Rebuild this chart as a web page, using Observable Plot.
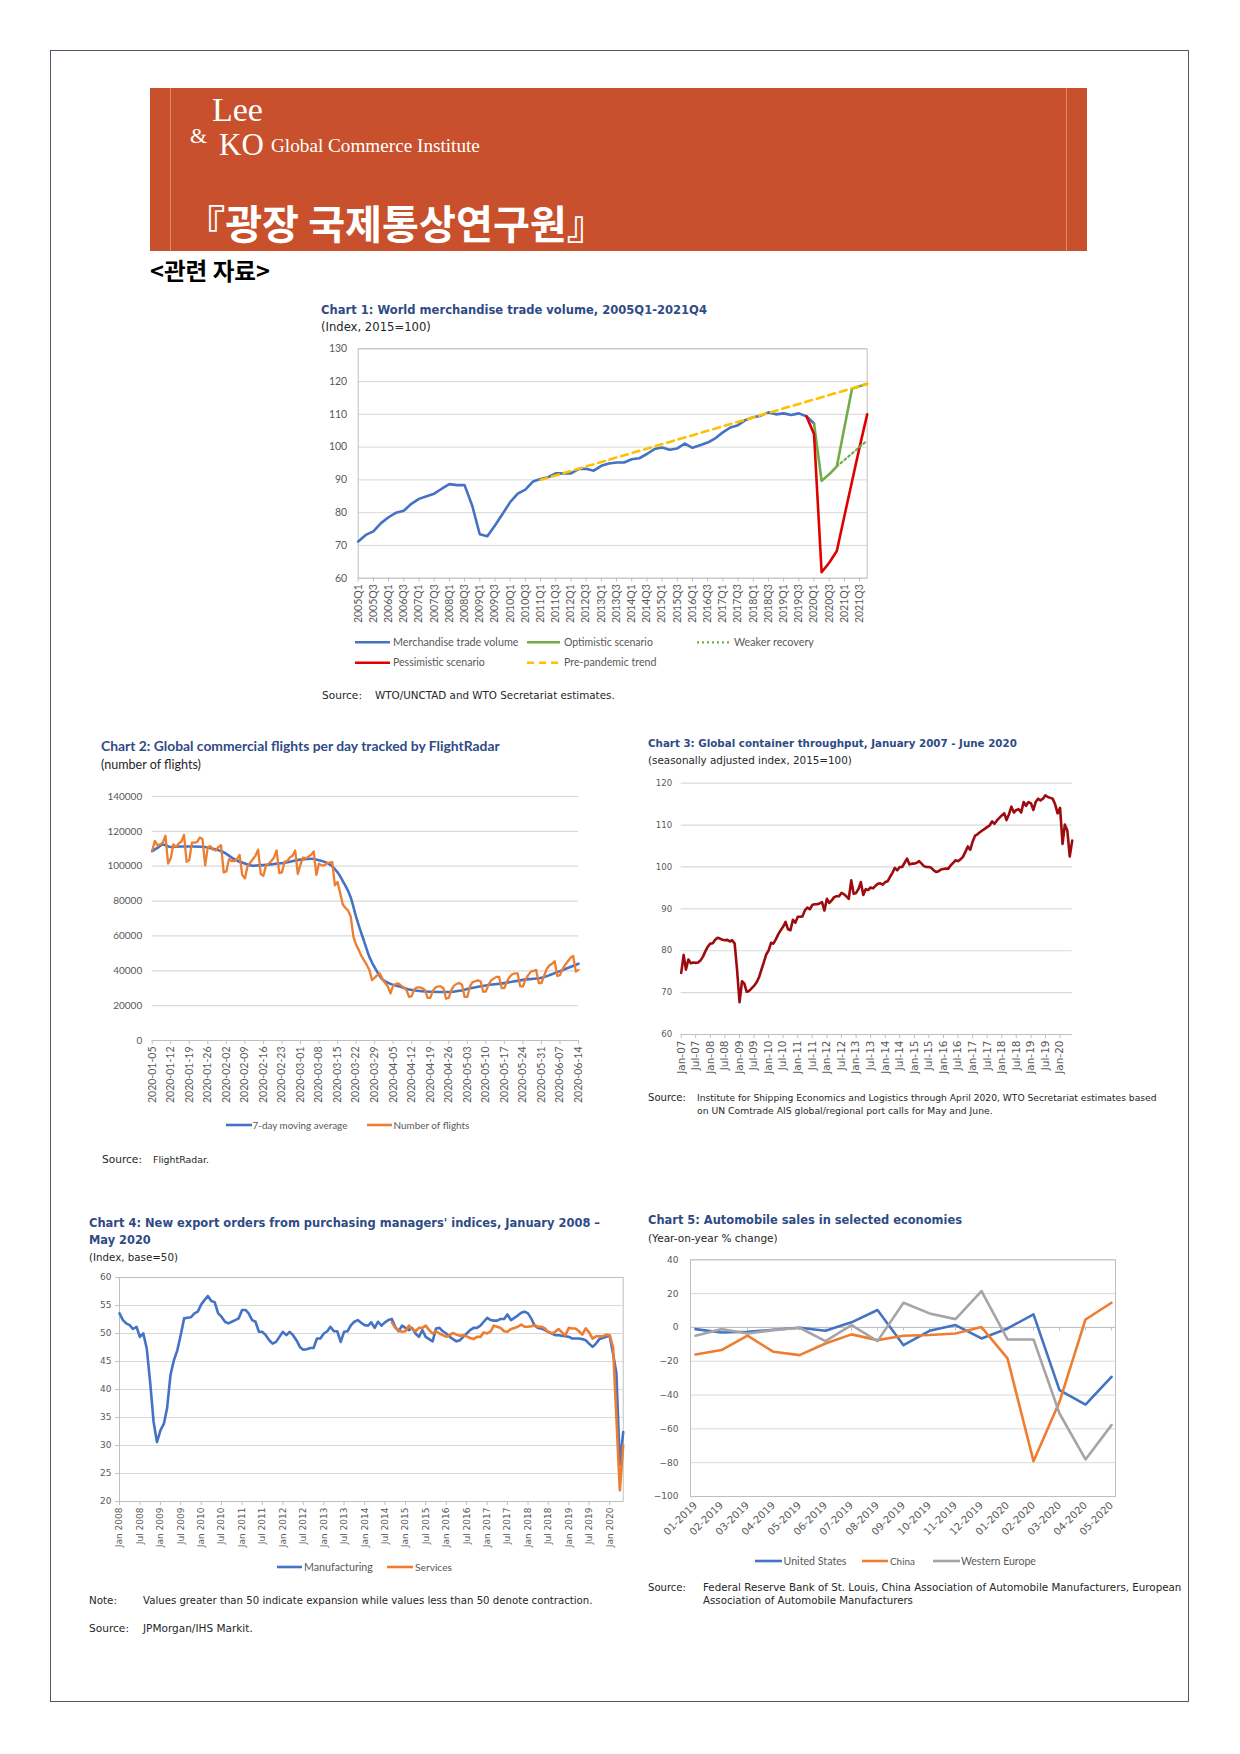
<!DOCTYPE html>
<html>
<head>
<meta charset="utf-8">
<script src="https://cdn.jsdelivr.net/npm/d3@7"></script>
<script src="https://cdn.jsdelivr.net/npm/@observablehq/plot@0.6"></script>
<style>
  html, body { margin: 0; padding: 0; background: #fff; }
  #page { position: relative; width: 1240px; height: 1754px; overflow: hidden; background: #fff; }
  #page > svg { position: absolute; }
</style>
</head>
<body>
<div id="page"></div>
<script>
// ---------------- Chart 1: World merchandise trade volume ----------------
const quarters = [
  "2005Q1","2005Q2","2005Q3","2005Q4","2006Q1","2006Q2","2006Q3","2006Q4",
  "2007Q1","2007Q2","2007Q3","2007Q4","2008Q1","2008Q2","2008Q3","2008Q4",
  "2009Q1","2009Q2","2009Q3","2009Q4","2010Q1","2010Q2","2010Q3","2010Q4",
  "2011Q1","2011Q2","2011Q3","2011Q4","2012Q1","2012Q2","2012Q3","2012Q4",
  "2013Q1","2013Q2","2013Q3","2013Q4","2014Q1","2014Q2","2014Q3","2014Q4",
  "2015Q1","2015Q2","2015Q3","2015Q4","2016Q1","2016Q2","2016Q3","2016Q4",
  "2017Q1","2017Q2","2017Q3","2017Q4","2018Q1","2018Q2","2018Q3","2018Q4",
  "2019Q1","2019Q2","2019Q3","2019Q4","2020Q1","2020Q2","2020Q3","2020Q4",
  "2021Q1","2021Q2","2021Q3","2021Q4"
];
const c1XTicks = [
  "2005Q1","2005Q3","2006Q1","2006Q3","2007Q1","2007Q3","2008Q1","2008Q3",
  "2009Q1","2009Q3","2010Q1","2010Q3","2011Q1","2011Q3","2012Q1","2012Q3",
  "2013Q1","2013Q3","2014Q1","2014Q3","2015Q1","2015Q3","2016Q1","2016Q3",
  "2017Q1","2017Q3","2018Q1","2018Q3","2019Q1","2019Q3","2020Q1","2020Q3",
  "2021Q1","2021Q3"
];
const c1YTicks = [60, 70, 80, 90, 100, 110, 120, 130];
// 2005Q1 .. 2020Q1
const tradeVolume = [
  71.2, 73.2, 74.3, 76.8, 78.6, 80.0, 80.6, 82.7, 84.2, 85.0,
  85.8, 87.3, 88.7, 88.4, 88.4, 82.2, 73.4, 72.8, 76.1, 79.6,
  83.2, 85.8, 87.0, 89.5, 90.3, 90.8, 92.0, 92.0, 92.0, 93.3,
  93.4, 92.8, 94.3, 95.0, 95.3, 95.3, 96.3, 96.6, 97.9, 99.4,
  99.9, 99.2, 99.6, 101.1, 99.8, 100.6, 101.4, 102.7, 104.5, 106.0,
  106.7, 108.3, 109.1, 109.6, 110.6, 110.0, 110.3, 109.8, 110.3, 109.4,
  107.2
];
const scenarioQuarters = ["2019Q4","2020Q1","2020Q2","2020Q3","2020Q4","2021Q1","2021Q2","2021Q3","2021Q4"];
const optimistic  = [null, 107.2, 89.7, 91.7, 94.1, 106.0, 117.8, 118.6, 119.3];
const pessimistic = [109.4, 104.0, 61.8, 64.7, 68.3, 79.0, 89.5, 100.0, 110.0];
const weakerQuarters = ["2020Q4", "2021Q4"];
const weakerRecovery = [94.1, 102.0];
const trendQuarters = ["2011Q1", "2021Q4"];
const prePandemicTrend = [90.0, 119.3];

// ---------------- Chart 2: Global commercial flights (thousands) ----------------
const flightsStart = "2020-01-05";
const flightsDaily = [
  109, 114.5, 112, 112.5, 113.5, 117.5, 101.5,
  104.5, 112.5, 111, 113, 114, 118, 102.5,
  103.5, 113.5, 113.5, 114, 116.5, 115.5, 100.5,
  111, 111.5, 109.5, 109, 111, 112, 96.5,
  97, 104, 103, 103, 104, 106.5, 95,
  93, 100, 102, 104, 106, 109.5, 95.5,
  94.5, 100.5, 101.5, 103, 105, 109, 96,
  96.5, 102.5, 103, 105, 106, 109, 95.5,
  101, 105, 104.5, 105.5, 106.5, 108.5, 95,
  101.5, 100.5, 100.5, 101.8, 102, 102.4, 89,
  91, 84.5, 78, 76, 74.5, 71, 59.5,
  55, 52, 48.5, 46, 43.5, 40.5, 34.7,
  36, 37.5, 38.5, 35, 33, 31, 27,
  31.5, 32.5, 32.7, 31.5, 30.5, 29, 25,
  25.5, 29.5, 30.5, 30.5, 30, 29, 24.5,
  24.5, 28.5, 30.5, 31, 31, 30, 24,
  24.5, 29, 31.5, 32.5, 33, 32, 25,
  25, 31, 33.5, 34, 34.5, 34, 28,
  28, 32, 34.5, 35.5, 36.5, 36.5, 30,
  30, 34, 36.5, 38, 38.5, 38.5, 31,
  31, 35, 37.5, 39.5, 40, 40.5, 33,
  33, 37, 41, 43, 44, 45.5, 37,
  37.5, 41, 43.5, 45.5, 47.5, 48.5, 39.5,
  40.5
];
const maDates = [
  "2020-01-05","2020-01-07","2020-01-09","2020-01-12","2020-01-16","2020-01-20","2020-01-24","2020-01-28",
  "2020-02-01","2020-02-05","2020-02-09","2020-02-12","2020-02-16","2020-02-20","2020-02-24","2020-03-01",
  "2020-03-05","2020-03-08","2020-03-12","2020-03-15","2020-03-17","2020-03-20","2020-03-22","2020-03-25",
  "2020-03-27","2020-03-30","2020-04-01","2020-04-04","2020-04-08","2020-04-11","2020-04-15","2020-04-19",
  "2020-04-26","2020-04-30","2020-05-04","2020-05-10","2020-05-17","2020-05-24","2020-05-31","2020-06-07",
  "2020-06-14"
];
const maValues = [
  108.6, 110.5, 112.5, 111, 111.3, 111.3, 111.2, 110,
  108, 104, 101.5, 100.3, 100.6, 101.3, 102, 103.8,
  104.3, 103.4, 101.1, 96.5, 91.5, 82, 71, 57,
  48, 39.4, 35, 32.5, 30.7, 29.3, 28.4, 28,
  27.8, 28.5, 30, 31.6, 32.9, 34.8, 36, 39.8,
  44
];
const c2XTicks = [
  "2020-01-05","2020-01-12","2020-01-19","2020-01-26","2020-02-02","2020-02-09","2020-02-16","2020-02-23",
  "2020-03-01","2020-03-08","2020-03-15","2020-03-22","2020-03-29","2020-04-05","2020-04-12","2020-04-19",
  "2020-04-26","2020-05-03","2020-05-10","2020-05-17","2020-05-24","2020-05-31","2020-06-07","2020-06-14"
];
const c2YTicks = [0, 20, 40, 60, 80, 100, 120, 140];

// ---------------- Chart 3: Global container throughput (monthly from Jan-07) ----------------
const containerStart = "Jan-07";
const containerIndex = [
  74.7, 79.0, 75.5, 77.9, 77.0, 77.2, 77.1, 77.2, 77.7, 78.6, 79.9, 81.0,
  81.7, 81.8, 82.6, 83.1, 82.9, 82.6, 82.5, 82.6, 82.2, 82.5, 81.7, 75.5,
  67.7, 72.7, 72.2, 70.2, 70.4, 71.0, 71.6, 72.4, 73.6, 75.4, 77.2, 79.1,
  80.1, 81.9, 81.7, 82.7, 83.9, 84.9, 85.7, 86.9, 85.1, 84.9, 87.4, 86.7,
  88.1, 88.1, 88.2, 89.7, 90.3, 89.9, 90.9, 91.1, 91.1, 91.3, 91.6, 89.6,
  92.4, 91.4, 92.0, 92.8, 93.0, 93.0, 93.8, 93.5, 93.0, 92.4, 96.8, 93.6,
  93.8, 94.8, 96.4, 93.3, 94.7, 94.5, 95.1, 94.9, 95.5, 96.0, 96.1, 95.8,
  96.4, 96.6, 97.6, 98.6, 99.8, 99.2, 100.0, 100.0, 101.0, 102.0, 100.6, 100.8,
  100.8, 101.0, 101.4, 100.8, 100.2, 100.0, 100.0, 99.8, 99.2, 98.8, 99.0, 99.4,
  99.5, 99.6, 99.6, 100.4, 101.0, 101.6, 101.4, 101.8, 102.4, 103.6, 104.9, 104.1,
  106.1, 107.5, 107.8, 108.3, 108.7, 109.1, 109.5, 109.9, 110.9, 110.3, 111.1, 111.7,
  112.3, 112.8, 111.2, 112.6, 114.4, 113.0, 113.6, 113.8, 113.0, 115.5, 114.6, 115.5,
  115.2, 113.6, 115.5, 116.3, 115.9, 116.3, 117.1, 116.7, 116.5, 116.3, 114.9, 112.8,
  114.1, 105.5, 110.1, 108.7, 102.5, 106.3
];
const c3XTicks = [
  "Jan-07","Jul-07","Jan-08","Jul-08","Jan-09","Jul-09","Jan-10","Jul-10","Jan-11","Jul-11",
  "Jan-12","Jul-12","Jan-13","Jul-13","Jan-14","Jul-14","Jan-15","Jul-15","Jan-16","Jul-16",
  "Jan-17","Jul-17","Jan-18","Jul-18","Jan-19","Jul-19","Jan-20"
];
const c3YTicks = [60, 70, 80, 90, 100, 110, 120];

// ---------------- Chart 4: New export orders PMI (monthly from Jan 2008) ----------------
const pmiStart = "Jan 2008";
const manufacturing = [
  53.6, 52.4, 51.8, 51.5, 50.8, 51.2, 49.4, 50.0, 47.3, 41.3, 34.2, 30.6,
  32.7, 33.9, 36.6, 42.6, 45.2, 47.0, 49.7, 52.7, 52.8, 52.9, 53.6, 53.9,
  55.2, 56.0, 56.7, 55.8, 55.6, 53.6, 53.0, 52.1, 51.8, 52.1, 52.4, 52.7,
  54.2, 54.2, 53.6, 52.4, 52.1, 50.3, 50.3, 49.7, 48.8, 48.2, 48.5, 49.4,
  50.3, 49.7, 50.3, 49.7, 48.8, 47.6, 47.1, 47.2, 47.4, 47.4, 49.1, 49.1,
  50.0, 50.4, 51.2, 50.4, 50.4, 48.5, 50.3, 50.4, 51.5, 52.1, 52.4, 51.9,
  51.5, 51.4, 52.0, 51.0, 52.1, 51.4, 52.0, 52.4, 52.6, 51.2, 50.4, 51.4,
  51.0, 50.6, 51.0, 50.0, 49.4, 50.6, 49.4, 49.0, 48.6, 50.9, 51.0, 50.4,
  50.0, 49.4, 49.0, 48.6, 48.8, 49.4, 50.0, 50.6, 51.0, 51.0, 51.4, 52.1,
  52.8, 52.4, 52.3, 52.3, 52.6, 52.6, 53.4, 52.4, 52.8, 53.2, 53.7, 53.9,
  53.6, 52.6, 51.4, 51.0, 50.9, 50.6, 50.3, 50.0, 49.7, 49.7, 49.6, 49.5,
  49.4, 49.1, 49.1, 49.1, 49.0, 48.8, 48.2, 47.6, 48.2, 49.0, 49.2, 49.4,
  49.6, 46.3, 43.0, 26.5, 32.4
];
const servicesStart = "Sep 2014";
const services = [
  52.0, 51.0, 50.6, 50.3, 50.4, 51.4, 50.8, 50.4, 51.0, 51.0, 51.4, 50.6,
  50.0, 50.4, 50.0, 49.7, 49.4, 49.7, 50.1, 49.8, 49.6, 49.7, 49.5, 49.2,
  49.0, 49.4, 49.4, 50.2, 50.0, 50.4, 51.4, 51.2, 51.0, 50.4, 50.3, 50.8,
  51.0, 51.2, 51.6, 51.2, 51.2, 51.3, 51.5, 51.2, 51.2, 50.9, 50.2, 50.0,
  50.3, 50.8, 50.2, 49.7, 51.0, 50.9, 50.9, 50.4, 49.8, 50.9, 50.2, 49.1,
  49.5, 49.5, 49.5, 49.8, 49.7, 47.5, 35.0, 22.0, 30.0
];
const c4XTicks = [
  "Jan 2008","Jul 2008","Jan 2009","Jul 2009","Jan 2010","Jul 2010","Jan 2011","Jul 2011",
  "Jan 2012","Jul 2012","Jan 2013","Jul 2013","Jan 2014","Jul 2014","Jan 2015","Jul 2015",
  "Jan 2016","Jul 2016","Jan 2017","Jul 2017","Jan 2018","Jul 2018","Jan 2019","Jul 2019","Jan 2020"
];
const c4YTicks = [20, 25, 30, 35, 40, 45, 50, 55, 60];

// ---------------- Chart 5: Automobile sales ----------------
const autoMonths = ["01-2019","02-2019","03-2019","04-2019","05-2019","06-2019","07-2019","08-2019",
  "09-2019","10-2019","11-2019","12-2019","01-2020","02-2020","03-2020","04-2020","05-2020"];
const unitedStates  = [-1, -3, -2.6, -1.4, -0.2, -2, 3, 10.3, -10.5, -2, 1.4, -6.5, -0.6, 7.7, -37.1, -45.6, -29.2];
const china         = [-16, -13.4, -4.9, -14.4, -16.4, -9.5, -4.1, -7.5, -4.9, -4.5, -3.6, 0.2, -18.3, -79.1, -44, 4.7, 14.6];
const westernEurope = [-4.9, -1, -3.6, -1.6, -0.2, -8.1, 1.4, -8.1, 14.6, 8.3, 4.9, 21.5, -7.1, -7.1, -50.9, -78.1, -57.8];
const c5YTicks = [-100, -80, -60, -40, -20, 0, 20, 40];

// ============================ drawing ============================
const page = document.getElementById("page");
const BLUE = "#4472c4", ORANGE = "#ed7d31", GRAY = "#a5a5a5", GREEN = "#70ad47", RED = "#e00000", GOLD = "#ffc000";
const GRID = "#d9d9d9", AXIS = "#bfbfbf", LABEL = "#595959", TITLE = "#2f4b86";

function place(svg, left, top) {
  svg.style.position = "absolute";
  svg.style.left = left + "px";
  svg.style.top = top + "px";
  page.appendChild(svg);
}
const calibri = { fontFamily: "Lato, sans-serif", color: LABEL, background: "transparent", overflow: "visible" };
const verdana = { fontFamily: "'DejaVu Sans', sans-serif", color: LABEL, background: "transparent", overflow: "visible" };

// Chart 1
place(Plot.plot({
  width: 570, height: 290, marginLeft: 47.7, marginRight: 13.3, marginTop: 8.3, marginBottom: 52.3,
  style: { ...calibri, fontSize: "10.5px" },
  x: { type: "point", domain: quarters, padding: 0 },
  y: { domain: [60, 130] },
  marks: [
    Plot.gridY(c1YTicks, { stroke: GRID, strokeOpacity: 1 }),
    Plot.frame({ stroke: AXIS }),
    Plot.axisY(c1YTicks, { tickSize: 0, tickPadding: 11, label: null, fill: LABEL }),
    Plot.axisX(c1XTicks, { tickRotate: -90, tickSize: 4, tickPadding: 2, label: null, stroke: AXIS, fill: LABEL }),
    Plot.line(tradeVolume, { x: (d, i) => quarters[i], y: d => d, stroke: BLUE, strokeWidth: 2.6 }),
    Plot.line(optimistic, { x: (d, i) => scenarioQuarters[i], y: d => d, stroke: GREEN, strokeWidth: 2.6 }),
    Plot.line(pessimistic, { x: (d, i) => scenarioQuarters[i], y: d => d, stroke: RED, strokeWidth: 2.6 }),
    Plot.line(weakerRecovery, { x: (d, i) => weakerQuarters[i], y: d => d, stroke: GREEN, strokeWidth: 2.2, strokeDasharray: "2,3" }),
    Plot.line(prePandemicTrend, { x: (d, i) => trendQuarters[i], y: d => d, stroke: GOLD, strokeWidth: 2.6, strokeDasharray: "7,5" })
  ]
}), 310, 340);

// Chart 2
const day0 = d3.utcParse("%Y-%m-%d")(flightsStart);
place(Plot.plot({
  width: 495, height: 325, marginLeft: 56.7, marginRight: 12, marginTop: 11, marginBottom: 70,
  style: { ...calibri, fontSize: "10px" },
  x: { type: "utc", domain: [day0, d3.utcParse("%Y-%m-%d")(c2XTicks[c2XTicks.length - 1])] },
  y: { domain: [0, 140] },
  marks: [
    Plot.gridY(c2YTicks.slice(1), { stroke: GRID, strokeOpacity: 1, strokeWidth: 1.2 }),
    Plot.ruleY([0], { stroke: AXIS }),
    Plot.axisY(c2YTicks, { tickSize: 0, tickPadding: 10, label: null, fill: LABEL, tickFormat: d => String(d * 1000) }),
    Plot.axisX(c2XTicks.map(d3.utcParse("%Y-%m-%d")), { tickRotate: -90, tickSize: 4, tickPadding: 2, label: null, stroke: AXIS, fill: LABEL, fontSize: 10.5, tickFormat: d3.utcFormat("%Y-%m-%d") }),
    Plot.line(maValues, { x: (d, i) => d3.utcParse("%Y-%m-%d")(maDates[i]), y: d => d, stroke: BLUE, strokeWidth: 2.6, curve: "monotone-x" }),
    Plot.line(flightsDaily, { x: (d, i) => d3.utcDay.offset(day0, i), y: d => d, stroke: ORANGE, strokeWidth: 2.3 })
  ]
}), 95, 785);

// Chart 3
const c3Parse = d3.utcParse("%b-%y");
const m3 = c3Parse(containerStart);
place(Plot.plot({
  width: 440, height: 305, marginLeft: 40.7, marginRight: 8.3, marginTop: 7.7, marginBottom: 46,
  style: { ...verdana, fontSize: "8.6px" },
  x: { type: "utc", domain: [m3, d3.utcMonth.offset(m3, containerIndex.length - 1)] },
  y: { domain: [60, 120] },
  marks: [
    Plot.gridY(c3YTicks.slice(1), { stroke: GRID, strokeOpacity: 1, strokeWidth: 1.2 }),
    Plot.ruleY([60], { stroke: AXIS }),
    Plot.axisY(c3YTicks, { tickSize: 0, tickPadding: 9, label: null, fill: LABEL }),
    Plot.axisX(c3XTicks.map(c3Parse), { tickRotate: -90, tickSize: 4, tickPadding: 2, label: null, stroke: AXIS, fill: LABEL, fontSize: 10.5, tickFormat: d3.utcFormat("%b-%y") }),
    Plot.line(containerIndex, { x: (d, i) => d3.utcMonth.offset(m3, i), y: d => d, stroke: "#9e0b0f", strokeWidth: 2.6 })
  ]
}), 640, 775);

// Chart 4
const c4Parse = d3.utcParse("%b %Y");
const m4 = c4Parse(pmiStart), s4 = c4Parse(servicesStart);
place(Plot.plot({
  width: 550, height: 290, marginLeft: 39, marginRight: 7.3, marginTop: 9, marginBottom: 57,
  style: { ...verdana, fontSize: "9px" },
  x: { type: "utc", domain: [m4, d3.utcMonth.offset(m4, manufacturing.length - 1)] },
  y: { domain: [20, 60] },
  marks: [
    Plot.gridY(c4YTicks, { stroke: GRID, strokeOpacity: 1 }),
    Plot.frame({ stroke: AXIS }),
    Plot.axisY(c4YTicks, { tickSize: 4, tickPadding: 4, label: null, stroke: AXIS, fill: LABEL }),
    Plot.axisX(c4XTicks.map(c4Parse), { tickRotate: -90, tickSize: 4, tickPadding: 2, label: null, stroke: AXIS, fill: LABEL, tickFormat: d3.utcFormat("%b %Y") }),
    Plot.line(manufacturing, { x: (d, i) => d3.utcMonth.offset(m4, i), y: d => d, stroke: BLUE, strokeWidth: 2.6 }),
    Plot.line(services, { x: (d, i) => d3.utcMonth.offset(s4, i), y: d => d, stroke: ORANGE, strokeWidth: 2.6 })
  ]
}), 80, 1268);

// Chart 5
place(Plot.plot({
  width: 490, height: 300, marginLeft: 50, marginRight: 15, marginTop: 9.3, marginBottom: 54,
  style: { ...verdana, fontSize: "9px" },
  x: { type: "point", domain: autoMonths, padding: 0 },
  y: { domain: [-100, 40] },
  marks: [
    Plot.gridY(c5YTicks, { stroke: GRID, strokeOpacity: 1 }),
    Plot.frame({ stroke: AXIS }),
    Plot.ruleY([0], { stroke: AXIS }),
    Plot.ruleX(autoMonths, { x: d => d, y1: 0, y2: -2, stroke: AXIS }),
    Plot.axisY(c5YTicks, { tickSize: 0, tickPadding: 12, label: null, fill: LABEL }),
    Plot.axisX(autoMonths, { tickRotate: -45, tickSize: 0, tickPadding: 7, label: null, fill: LABEL, fontSize: 10.2 }),
    Plot.line(unitedStates, { x: (d, i) => autoMonths[i], y: d => d, stroke: BLUE, strokeWidth: 2.6 }),
    Plot.line(china, { x: (d, i) => autoMonths[i], y: d => d, stroke: ORANGE, strokeWidth: 2.6 }),
    Plot.line(westernEurope, { x: (d, i) => autoMonths[i], y: d => d, stroke: GRAY, strokeWidth: 2.6 })
  ]
}), 640, 1250);

// ---------------- overlay: header, titles, legends, sources ----------------
const ov = d3.select(page).append("svg")
  .attr("width", 1240).attr("height", 1754)
  .style("left", "0px").style("top", "0px").style("pointer-events", "none");

function txt(x, y, s, o = {}) {
  const size = o.size || 10;
  const t = ov.append("text").attr("x", x).attr("y", y).text(s)
    .attr("font-family", o.family || "'DejaVu Sans', sans-serif")
    .attr("font-size", size)
    .attr("font-weight", o.weight || "normal")
    .attr("fill", o.fill || "#262626");
  if (o.w) {
    const len = t.node().getComputedTextLength();
    if (len > 0) t.attr("font-size", size * o.w / len);
  }
  return t;
}
function leg(x1, x2, y, color, label, tx, tw, o = {}) {
  ov.append("line").attr("x1", x1).attr("x2", x2).attr("y1", y).attr("y2", y)
    .attr("stroke", color).attr("stroke-width", o.width || 2.6)
    .attr("stroke-dasharray", o.dash || null);
  txt(tx, y + 3.6, label, { family: "Lato, sans-serif", size: 10.5, fill: LABEL, w: tw });
}

// page border
ov.append("rect").attr("x", 50.5).attr("y", 50.5).attr("width", 1138).attr("height", 1651)
  .attr("fill", "none").attr("stroke", "#555566").attr("stroke-width", 1);

// header band
ov.append("rect").attr("x", 150).attr("y", 88).attr("width", 937).attr("height", 163).attr("fill", "#c9502c");
ov.append("line").attr("x1", 170.5).attr("x2", 170.5).attr("y1", 88).attr("y2", 251).attr("stroke", "#dc8a6e").attr("stroke-width", 1);
ov.append("line").attr("x1", 1066.5).attr("x2", 1066.5).attr("y1", 88).attr("y2", 251).attr("stroke", "#dc8a6e").attr("stroke-width", 1);
const serif = "'Liberation Serif', 'DejaVu Serif', serif";
// logo: stacked "Lee" / "KO" with "&"
txt(190, 143, "&", { family: serif, size: 22, fill: "#fff" });
txt(212, 120.5, "Lee", { family: serif, size: 34, fill: "#fff" });
txt(219, 155, "KO", { family: serif, size: 31, fill: "#fff" });
txt(271, 152, "Global Commerce Institute", { family: serif, size: 17, fill: "#fff", w: 209 });
txt(185, 239, "『광장 국제통상연구원』", { family: "'Noto Sans CJK KR', sans-serif", size: 38, weight: "bold", fill: "#fff", w: 422 });
txt(150, 280, "<관련 자료>", { family: "'Noto Sans CJK KR', sans-serif", size: 19, weight: "bold", fill: "#000", w: 120 });

// Chart 1 texts
txt(321, 314, "Chart 1: World merchandise trade volume, 2005Q1-2021Q4", { size: 11.4, weight: "bold", fill: TITLE, w: 386 });
txt(321, 331, "(Index, 2015=100)", { size: 11.5, fill: "#262626", w: 110 });
leg(355, 390, 642.3, BLUE, "Merchandise trade volume", 393, 125.6);
leg(527, 560, 642.3, GREEN, "Optimistic scenario", 564, 89);
leg(697, 729, 642.3, GREEN, "Weaker recovery", 734, 80, { dash: "2,3", width: 2.2 });
leg(355, 390, 662.7, RED, "Pessimistic scenario", 393, 92);
leg(527, 560, 662.7, GOLD, "Pre-pandemic trend", 564, 92.7, { dash: "7,5" });
txt(322, 698.5, "Source:", { size: 9.5, w: 40 });
txt(375, 698.5, "WTO/UNCTAD and WTO Secretariat estimates.", { size: 9.5, w: 240 });

// Chart 2 texts
txt(101, 750.5, "Chart 2: Global commercial flights per day tracked by FlightRadar", { family: "Lato, sans-serif", size: 12.5, weight: "bold", fill: TITLE, w: 399 });
txt(101, 769, "(number of flights)", { family: "Lato, sans-serif", size: 12, fill: "#262626", w: 100 });
leg(226, 252, 1125, BLUE, "7-day moving average", 252.5, 95);
leg(367, 392, 1125, ORANGE, "Number of flights", 393.5, 76);
txt(102, 1163, "Source:", { size: 9.5, w: 40 });
txt(153, 1163, "FlightRadar.", { size: 9.5, w: 56 });

// Chart 3 texts
txt(648, 747, "Chart 3: Global container throughput, January 2007 - June 2020", { size: 10.5, weight: "bold", fill: TITLE, w: 369 });
txt(648, 764, "(seasonally adjusted index, 2015=100)", { size: 10.5, fill: "#262626", w: 204 });
txt(648, 1100.5, "Source:", { size: 9, w: 38 });
txt(697, 1100.5, "Institute for Shipping Economics and Logistics through April 2020, WTO Secretariat estimates based", { size: 9, w: 460 });
txt(697, 1113.5, "on UN Comtrade AIS global/regional port calls for May and June.", { size: 9, w: 296 });

// Chart 4 texts
txt(89, 1227, "Chart 4: New export orders from purchasing managers' indices, January 2008 –", { size: 11.4, weight: "bold", fill: TITLE, w: 511 });
txt(89, 1244, "May 2020", { size: 11.4, weight: "bold", fill: TITLE });
txt(89, 1260.5, "(Index, base=50)", { size: 10, fill: "#262626", w: 89 });
leg(277, 302, 1567, BLUE, "Manufacturing", 304, 69);
leg(387, 413, 1567, ORANGE, "Services", 415, 37);
txt(89, 1603.5, "Note:", { size: 9.5, w: 28 });
txt(143, 1603.5, "Values greater than 50 indicate expansion while values less than 50 denote contraction.", { size: 9.5, w: 450 });
txt(89, 1631.5, "Source:", { size: 9.5, w: 40 });
txt(143, 1631.5, "JPMorgan/IHS Markit.", { size: 9.5, w: 110 });

// Chart 5 texts
txt(648, 1224, "Chart 5: Automobile sales in selected economies", { size: 11.4, weight: "bold", fill: TITLE, w: 314 });
txt(648, 1241.5, "(Year-on-year % change)", { size: 10, fill: "#262626", w: 130 });
leg(755, 782, 1561, BLUE, "United States", 783.5, 63);
leg(862, 888, 1561, ORANGE, "China", 890, 25);
leg(933, 960, 1561, GRAY, "Western Europe", 961, 75);
txt(648, 1590.5, "Source:", { size: 9, w: 38 });
txt(703, 1590.5, "Federal Reserve Bank of St. Louis, China Association of Automobile Manufacturers, European", { size: 9, w: 479 });
txt(703, 1603.5, "Association of Automobile Manufacturers", { size: 9, w: 210 });
</script>
</body>
</html>
